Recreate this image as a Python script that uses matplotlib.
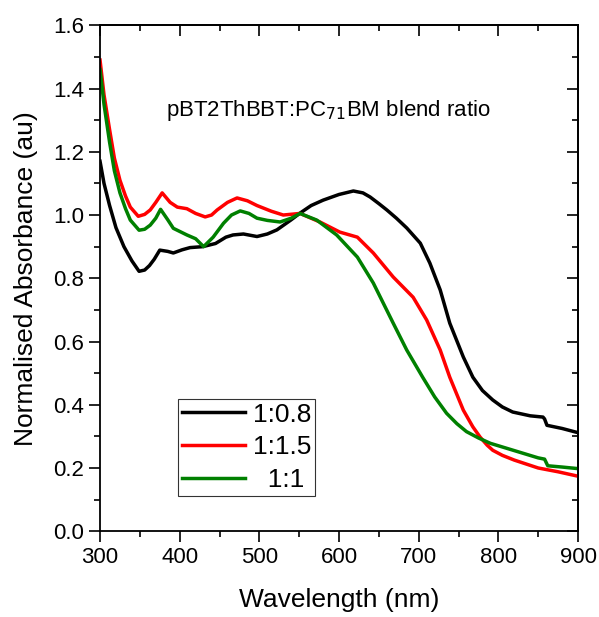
import numpy as np
import matplotlib
matplotlib.use('Agg')
import matplotlib.pyplot as plt
from matplotlib.ticker import MultipleLocator

plt.rcParams['font.family'] = ['Liberation Sans', 'DejaVu Sans']

# Data (wavelength in nm, normalised absorbance)
wl_a = [300, 305, 312, 320, 330, 340, 349, 356, 362, 368, 375, 385, 392, 403, 413, 429, 445,
        458, 467, 480, 497, 510, 522, 540, 551, 565, 580, 600, 618, 630, 639, 650, 660, 672,
        685, 702, 714, 727, 739, 756, 768, 780, 793, 805, 818, 840, 856, 858, 861, 880, 898, 900]
abs_a = [1.17, 1.10, 1.03, 0.96, 0.90, 0.855, 0.822, 0.826, 0.84, 0.86, 0.889, 0.885, 0.88, 0.89, 0.897, 0.90, 0.91,
         0.93, 0.937, 0.94, 0.932, 0.94, 0.953, 0.985, 1.006, 1.03, 1.047, 1.065, 1.076, 1.07, 1.057, 1.036, 1.016, 0.99,
         0.959, 0.911, 0.848, 0.763, 0.658, 0.551, 0.487, 0.445, 0.415, 0.393, 0.377, 0.365, 0.361, 0.355, 0.335, 0.325, 0.313, 0.312]

wl_b = [300, 305, 312, 318, 325, 332, 338, 348, 356, 363, 370, 378, 388, 397, 409, 420, 432, 440, 447, 460,
        472, 485, 497, 515, 530, 551, 576, 601, 623, 643, 668, 693, 710, 727, 739, 756, 768, 777, 786, 793,
        805, 820, 850, 875, 900]
abs_b = [1.49, 1.38, 1.27, 1.18, 1.11, 1.06, 1.025, 0.996, 1.002, 1.016, 1.04, 1.07, 1.04, 1.025, 1.02, 1.005, 0.994, 1.0, 1.016, 1.04,
         1.054, 1.045, 1.03, 1.012, 1.0, 1.005, 0.978, 0.946, 0.93, 0.88, 0.804, 0.74, 0.668, 0.573, 0.487, 0.383, 0.33, 0.298, 0.272, 0.256,
         0.24, 0.225, 0.20, 0.188, 0.174]

wl_c = [300, 305, 312, 318, 325, 332, 338, 349, 356, 363, 370, 376, 385, 392, 409, 420, 430, 442, 455,
        465, 476, 487, 497, 510, 526, 540, 551, 572, 597, 623, 643, 668, 685, 705, 720, 735, 748, 760, 775,
        790, 820, 850, 858, 862, 880, 900]
abs_c = [1.46, 1.35, 1.23, 1.14, 1.07, 1.02, 0.984, 0.952, 0.955, 0.968, 0.99, 1.018, 0.985, 0.958, 0.937, 0.925, 0.90, 0.93, 0.974,
         1.0, 1.013, 1.005, 0.99, 0.983, 0.978, 0.99, 1.005, 0.984, 0.937, 0.867, 0.785, 0.658, 0.573, 0.487, 0.425, 0.373, 0.34, 0.315, 0.295,
         0.278, 0.255, 0.232, 0.228, 0.207, 0.203, 0.198]

labels = ['1:0.8', '1:1.5', '  1:1']
colors = ['black', 'red', 'green']

fig = plt.figure(figsize=(5.99, 6.17), dpi=100)
ax = fig.add_axes([0.167, 0.139, 0.798, 0.820])

for x, y, lab, c in zip([wl_a, wl_b, wl_c], [abs_a, abs_b, abs_c], labels, colors):
    ax.plot(x, y, color=c, lw=2.5, label=lab, solid_joinstyle='round')

ax.set_xlim(300, 900)
ax.set_ylim(0, 1.6)
ax.xaxis.set_major_locator(MultipleLocator(100))
ax.xaxis.set_minor_locator(MultipleLocator(50))
ax.yaxis.set_major_locator(MultipleLocator(0.2))
ax.yaxis.set_minor_locator(MultipleLocator(0.1))
ax.yaxis.set_major_formatter(plt.FormatStrFormatter('%.1f'))
ax.tick_params(which='both', direction='out', labelsize=16, width=1.2)
ax.tick_params(which='major', length=8)
ax.tick_params(which='minor', length=4.5)

# mirrored ticks pointing inward on top/right
sec_x = ax.secondary_xaxis('top')
sec_x.xaxis.set_major_locator(MultipleLocator(100))
sec_x.xaxis.set_minor_locator(MultipleLocator(50))
sec_x.tick_params(which='both', direction='in', labeltop=False, width=1.2)
sec_x.tick_params(which='major', length=8)
sec_x.tick_params(which='minor', length=4.5)
sec_y = ax.secondary_yaxis('right')
sec_y.yaxis.set_major_locator(MultipleLocator(0.2))
sec_y.yaxis.set_minor_locator(MultipleLocator(0.1))
sec_y.tick_params(which='both', direction='in', labelright=False, width=1.2)
sec_y.tick_params(which='major', length=8)
sec_y.tick_params(which='minor', length=4.5)
for s in list(ax.spines.values()):
    s.set_linewidth(1.3)
sec_x.spines['top'].set_linewidth(1.3)
sec_y.spines['right'].set_linewidth(1.3)

ax.set_xlabel('Wavelength (nm)', fontsize=19, labelpad=14)
ax.set_ylabel('Normalised Absorbance (au)', fontsize=19, labelpad=11)

ax.text(586, 1.33, 'pBT2ThBBT:PC$_{71}$BM blend ratio', fontsize=16, ha='center', va='center')

leg = ax.legend(loc='upper left', bbox_to_anchor=(0.163, 0.262), fontsize=19,
                frameon=True, fancybox=False, edgecolor='black', handlelength=2.4,
                borderaxespad=0, labelspacing=0.33, handletextpad=0.3, borderpad=0.15)
leg.get_frame().set_linewidth(0.8)

fig.savefig('out.png', dpi=100)
